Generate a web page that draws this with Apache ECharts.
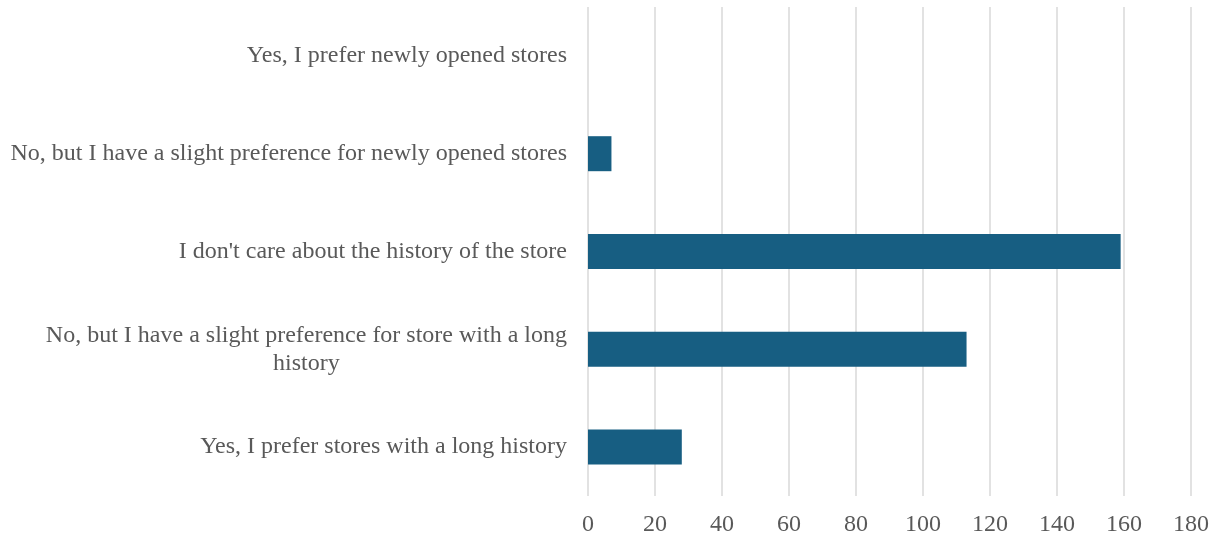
<!DOCTYPE html>
<html>
<head>
<meta charset="utf-8">
<script src="https://cdn.jsdelivr.net/npm/echarts@6/dist/echarts.min.js"></script>
<style>
  html, body { margin: 0; padding: 0; background: #ffffff; }
  #chart { width: 1221px; height: 538px; }
</style>
</head>
<body>
<div id="chart"></div>
<script>
// Survey answers, listed bottom to top as drawn on the category axis
const categories = [
  'Yes, I prefer stores with a long history',
  'No, but I have a slight preference for store with a long\nhistory',
  "I don't care about the history of the store",
  'No, but I have a slight preference for newly opened stores',
  'Yes, I prefer newly opened stores'
];
const responses = [28, 113, 159, 7, 0];
const valueTicks = [0, 20, 40, 60, 80, 100, 120, 140, 160, 180];

const chart = echarts.init(document.getElementById('chart'), null, { renderer: 'canvas' });

const fontFamily = '"Liberation Serif", "Times New Roman", serif';

chart.setOption({
  animation: false,
  backgroundColor: '#ffffff',
  grid: { left: 588, right: 30, top: 7, bottom: 42, containLabel: false },
  xAxis: {
    type: 'value',
    min: valueTicks[0],
    max: valueTicks[valueTicks.length - 1],
    interval: valueTicks[1] - valueTicks[0],
    axisLine: { show: false },
    axisTick: { show: false },
    splitLine: { show: true, lineStyle: { color: '#d9d9d9', width: 1.5 } },
    axisLabel: { color: '#595959', fontSize: 24, fontFamily: fontFamily, margin: 17 }
  },
  yAxis: {
    type: 'category',
    data: categories,
    axisLine: { show: false },
    axisTick: { show: false },
    axisLabel: {
      margin: 21,
      formatter: function (value) {
        // each line centred within the label block
        return value.split('\n').map(function (line) { return '{c|' + line + '}'; }).join('\n');
      },
      rich: {
        c: { align: 'center', color: '#595959', fontSize: 24, fontFamily: fontFamily, lineHeight: 28 }
      }
    }
  },
  series: [{
    type: 'bar',
    data: responses,
    barWidth: 35,
    itemStyle: { color: '#175e82' }
  }]
});
</script>
</body>
</html>
